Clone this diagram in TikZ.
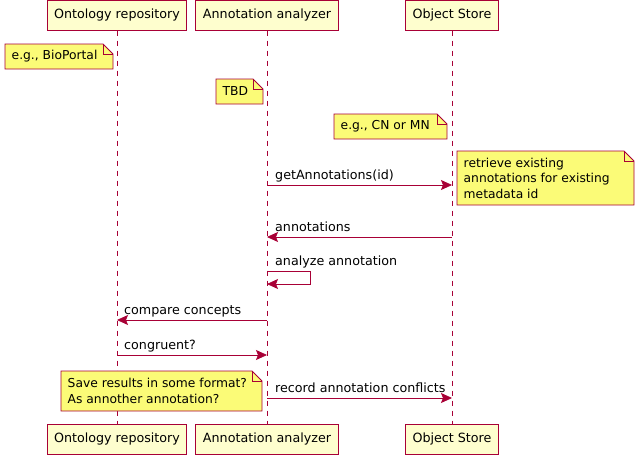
\documentclass[tikz,border=0pt]{standalone}
\usepackage{fontspec}
\setmainfont{DejaVu Sans}
\usetikzlibrary{arrows.meta}

\definecolor{umlred}{HTML}{A80036}
\definecolor{partfill}{HTML}{FEFECE}
\definecolor{notefill}{HTML}{FBFB77}

\tikzset{
  umlfont/.style={font=\fontsize{12.7}{15.5}\selectfont},
  participant/.style={umlfont, draw=umlred, fill=partfill, line width=1pt,
    minimum height=30pt, inner xsep=7pt},
  lifeline/.style={umlred, line width=0.8pt, dash pattern=on 5pt off 5pt},
  msg/.style={umlred, line width=0.8pt, -{Stealth[length=11pt, width=10pt, inset=2pt]}},
  msglabel/.style={umlfont, anchor=base west, inner sep=0pt},
  notebox/.style={draw=umlred, fill=notefill, line width=0.8pt},
  notetext/.style={font=\fontsize{12.3}{15.5}\selectfont, align=left, inner sep=0pt, anchor=west},
}

% note with folded corner: name, x1, y1, x2, y2, text
\newcommand{\umlnote}[6]{%
  \filldraw[notebox] (#2,#3) -- (#4-10,#3) -- (#4,#3+10) -- (#4,#5) -- (#2,#5) -- cycle;
  \draw[notebox, fill=none] (#4-10,#3) -- (#4-10,#3+10) -- (#4,#3+10);
  \node[notetext] (#1) at (#2+6.5,{(#3+#5)/2}) {#6};
}

\begin{document}
\begin{tikzpicture}[x=1pt, y=-1pt]
  \useasboundingbox (0,0) rectangle (639,455);

  % Participants, top and bottom
  \node[participant] (ontoTop) at (117,15) {Ontology repository};
  \node[participant] (anaTop) at (267,15) {Annotation analyzer};
  \node[participant] (objTop) at (452,15) {Object Store};
  \node[participant] (ontoBot) at (117,439) {Ontology repository};
  \node[participant] (anaBot) at (267,439) {Annotation analyzer};
  \node[participant] (objBot) at (452,439) {Object Store};

  % Lifelines
  \draw[lifeline] (ontoTop.south) -- (ontoBot.north);
  \draw[lifeline] (anaTop.south) -- (anaBot.north);
  \draw[lifeline] (objTop.south) -- (objBot.north);

  % Notes
  \umlnote{noteBio}{5}{44}{113}{69}{e.g., BioPortal}
  \umlnote{noteTbd}{216}{79}{263}{104}{TBD}
  \umlnote{noteStore}{334}{114}{447}{139}{e.g., CN or MN}
  \umlnote{noteRetrieve}{457}{151}{634}{205}{retrieve existing\\annotations for existing\\metadata id}
  \umlnote{noteSave}{61}{371}{262}{411}{Save results in some format?\\As annother annotation?}

  % Messages
  \draw[msg] (anaTop |- 0,185) -- (objTop |- 0,185);
  \node[msglabel] (lblGet) at (275,179) {getAnnotations(id)};

  \draw[msg] (objTop |- 0,237) -- (anaTop |- 0,237);
  \node[msglabel] (lblAnn) at (275,231) {annotations};

  \draw[msg] (anaTop |- 0,271) -- (310,271) -- (310,284) -- (anaTop |- 0,284);
  \node[msglabel] (lblAnalyze) at (275,265) {analyze annotation};

  \draw[msg] (anaTop |- 0,320) -- (ontoTop |- 0,320);
  \node[msglabel] (lblCompare) at (124,314) {compare concepts};

  \draw[msg] (ontoTop |- 0,355) -- (anaTop |- 0,355);
  \node[msglabel] (lblCongruent) at (124,349) {congruent?};

  \draw[msg] (anaTop |- 0,398) -- (objTop |- 0,398);
  \node[msglabel] (lblRecord) at (275,392) {record annotation conflicts};
\end{tikzpicture}
\end{document}
